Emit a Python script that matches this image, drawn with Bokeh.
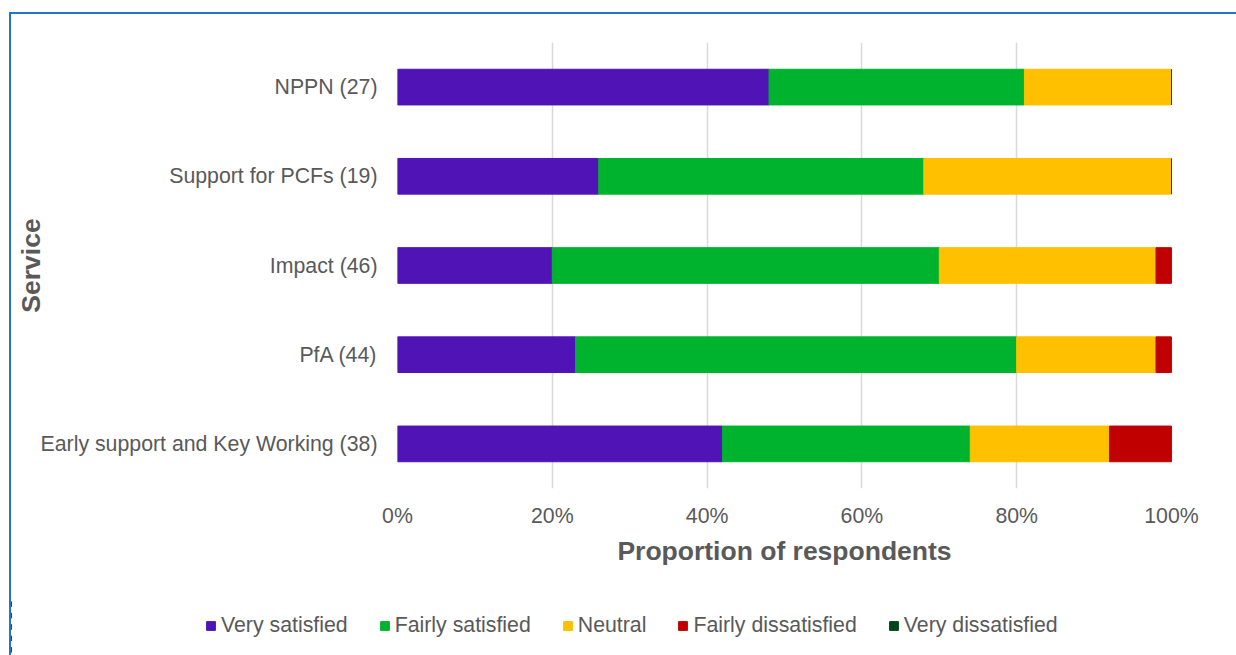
from bokeh.plotting import figure
from bokeh.layouts import column, row
from bokeh.models import (ColumnDataSource, FactorRange, Range1d, Legend, LegendItem,
                          FixedTicker, PrintfTickFormatter, Spacer)
from bokeh.embed import file_html
from bokeh.resources import INLINE

services = ["NPPN (27)", "Support for PCFs (19)", "Impact (46)", "PfA (44)",
            "Early support and Key Working (38)"]
very_satisfied = [48, 26, 20, 23, 42]
fairly_satisfied = [33, 42, 50, 57, 32]
neutral = [19, 32, 28, 18, 18]
fairly_dissatisfied = [0, 0, 2, 2, 8]
very_dissatisfied = [0, 0, 0, 0, 0]

categories = ["Very satisfied", "Fairly satisfied", "Neutral",
              "Fairly dissatisfied", "Very dissatisfied"]
keys = ["very_satisfied", "fairly_satisfied", "neutral",
        "fairly_dissatisfied", "very_dissatisfied"]
colors = ["#5014B6", "#00B32E", "#FFC000", "#C00000", "#00461B"]
x_ticks = [0, 20, 40, 60, 80, 100]

source = ColumnDataSource(dict(
    service=services,
    very_satisfied=very_satisfied,
    fairly_satisfied=fairly_satisfied,
    neutral=neutral,
    fairly_dissatisfied=fairly_dissatisfied,
    very_dissatisfied=very_dissatisfied,
))

FONT = "Liberation Sans"
TXT = "#595959"
BLUE = "#2276C9"

W = 1225
H_MAIN = 584
H_LEG = 57

p = figure(width=W, height=H_MAIN, output_backend="svg", toolbar_location=None,
           y_range=FactorRange(factors=list(reversed(services))),
           x_range=Range1d(0, 100),
           min_border_left=386, min_border_right=65, min_border_top=28,
           min_border_bottom=110)
p.frame_align = False
p.outline_line_color = None
p.background_fill_color = "white"
p.border_fill_color = "white"

renderers = p.hbar_stack(keys, y="service", height=0.4, color=colors, source=source)

p.ygrid.visible = False
p.xgrid.grid_line_color = "#D9D9D9"
p.xgrid.grid_line_width = 1.5

p.xaxis.ticker = FixedTicker(ticks=x_ticks)
p.xaxis.formatter = PrintfTickFormatter(format="%d%%")
for ax in (p.xaxis[0], p.yaxis[0]):
    ax.axis_line_color = None
    ax.major_tick_line_color = None
    ax.minor_tick_line_color = None
    ax.major_tick_out = 0
    ax.major_label_text_font = FONT
    ax.major_label_text_font_size = "21.3px"
    ax.major_label_text_color = TXT
    ax.axis_label_text_font = FONT
    ax.axis_label_text_font_size = "26.5px"
    ax.axis_label_text_font_style = "bold"
    ax.axis_label_text_color = TXT

p.xaxis.axis_label = "Proportion of respondents"
p.xaxis.major_label_standoff = 15
p.xaxis.axis_label_standoff = 5
p.yaxis.axis_label = "Service"
p.yaxis.major_label_standoff = 20
p.yaxis.axis_label_standoff = -8

# legend drawn in its own strip under the chart; its bars fall outside the
# strip's x range so only the legend swatches are visible
lf = figure(width=W, height=H_LEG, output_backend="svg", toolbar_location=None,
            x_range=Range1d(1000, 1001), y_range=FactorRange(factors=list(reversed(services))),
            min_border=0, min_border_left=0, min_border_right=0,
            min_border_top=0, min_border_bottom=0)
lf.frame_align = False
lf.axis.visible = False
lf.grid.visible = False
lf.outline_line_color = None
lf.border_fill_alpha = 0
lf.background_fill_alpha = 0
leg_rs = lf.hbar_stack(keys, y="service", height=0.4, color=colors, source=source)
legend = Legend(items=[LegendItem(label=c, renderers=[r]) for c, r in zip(categories, leg_rs)],
                orientation="horizontal", location=(194, 17),
                glyph_width=11, glyph_height=11, label_standoff=5, spacing=31,
                padding=0, margin=0, border_line_color=None, background_fill_alpha=0,
                label_text_font=FONT, label_text_font_size="21.3px", label_text_color=TXT)
lf.add_layout(legend, "center")

layout = column(
    Spacer(width=1236, height=12),
    row(Spacer(width=9, height=2), Spacer(width=1227, height=2, styles={"background-color": BLUE})),
    row(Spacer(width=9, height=H_MAIN),
        Spacer(width=2, height=H_MAIN, styles={"background-color": BLUE}),
        p),
    row(Spacer(width=9, height=H_LEG),
        Spacer(width=2, height=H_LEG, styles={"background-color": BLUE}),
        lf),
)

open("out.html", "w").write(file_html(layout, INLINE))
